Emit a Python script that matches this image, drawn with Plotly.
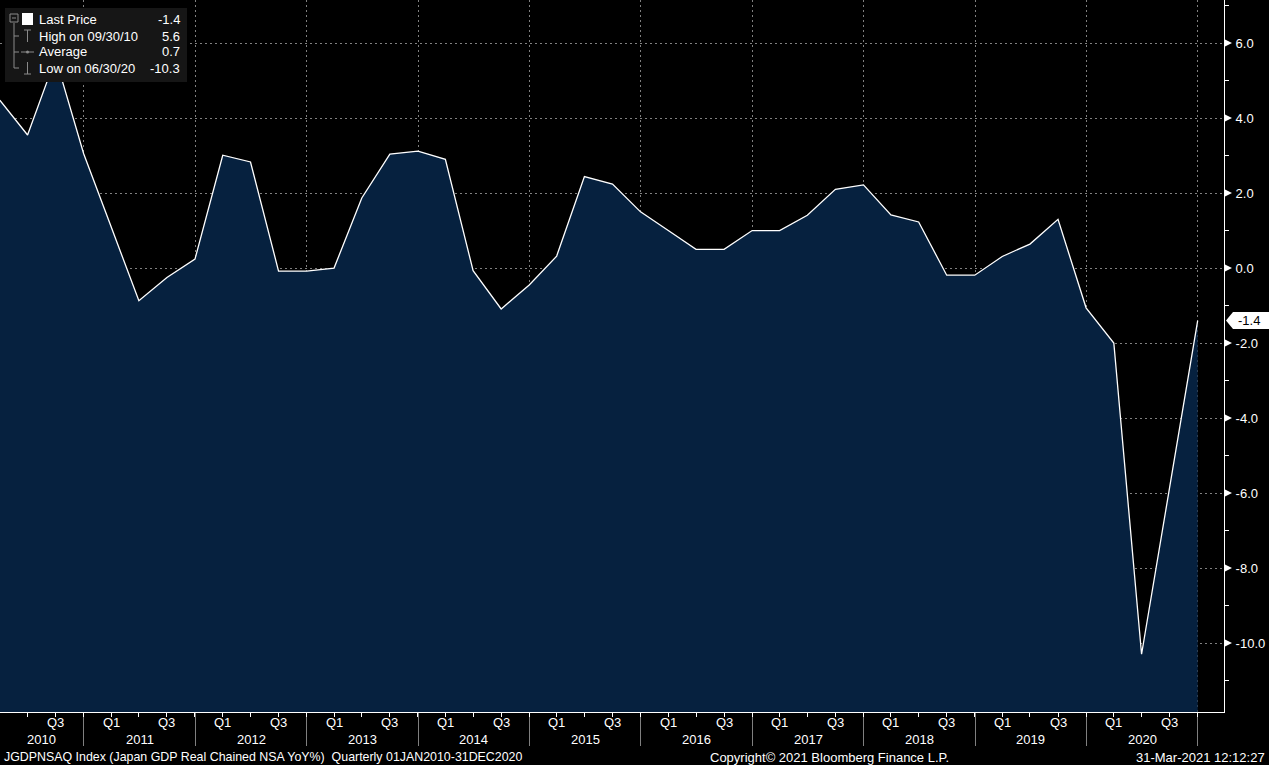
import plotly.graph_objects as go
import datetime as _dt

# ---------------- data ----------------
years = list(range(2010, 2021))
quarter_end_md = ["03-31", "06-30", "09-30", "12-31"]
dates = [f"{y}-{md}" for y in years for md in quarter_end_md]

gdp_yoy = [
    4.48, 3.55, 5.60, 3.05,    # 2010
    1.10, -0.87, -0.25, 0.24,  # 2011
    3.01, 2.83, -0.08, -0.08,  # 2012
    0.00, 1.87, 3.04, 3.12,    # 2013
    2.90, -0.07, -1.09, -0.45, # 2014
    0.32, 2.44, 2.24, 1.50,    # 2015
    1.00, 0.50, 0.50, 1.00,    # 2016
    1.00, 1.41, 2.10, 2.22,    # 2017
    1.42, 1.23, -0.19, -0.19,  # 2018
    0.31, 0.64, 1.30, -1.06,   # 2019
    -2.00, -10.30, -5.85, -1.40  # 2020
]

y_major = [-10, -8, -6, -4, -2, 0, 2, 4, 6]
y_minor = [-11, -9, -7, -5, -3, -1, 1, 3, 5, 7]
year_bounds = [f"{y}-01-01" for y in range(2011, 2022)]
year_labels = [str(y) for y in years]
q_labels = ["Q1", "", "Q3", ""]

legend_rows = [
    ("Last Price", "-1.4"),
    ("High on 09/30/10", "5.6"),
    ("Average", "0.7"),
    ("Low on 06/30/20", "-10.3"),
]
last_value = gdp_yoy[-1]

footer_left = "JGDPNSAQ Index (Japan GDP Real Chained NSA YoY%)  Quarterly 01JAN2010-31DEC2020"
footer_mid = "Copyright\u00a9 2021 Bloomberg Finance L.P."
footer_right = "31-Mar-2021 12:12:27"

# ---------------- layout constants ----------------
W, H = 1269, 765
ML, MR, MT, MB = 0, 45, 0, 53
PW, PH = W - ML - MR, H - MT - MB
Y_MIN, Y_MAX = -11.84, 7.15
X0 = _dt.datetime(2010, 3, 31, 14)
X1 = _dt.datetime(2021, 3, 27, 7)
FILL = "#06213F"
GRID = "#808080"
FONT = "Liberation Sans"


def px2x(px):
    return (px - ML) / PW


def px2y(py):
    return 1 - (py - MT) / PH


def upy(pixels):  # pixels -> data units on y
    return pixels * (Y_MAX - Y_MIN) / PH


fig = go.Figure()

# baseline for fill to bottom of plot
fig.add_trace(go.Scatter(x=dates, y=[Y_MIN] * len(dates), mode="lines",
                         line=dict(width=0, color=FILL), hoverinfo="skip",
                         showlegend=False))
fig.add_trace(go.Scatter(x=dates, y=gdp_yoy, mode="lines", fill="tonexty",
                         fillcolor=FILL, line=dict(color="white", width=1.3),
                         showlegend=False))

shapes = []
annotations = []

# right axis triangles at major ticks
d = upy(3.5)
for v in y_major:
    shapes.append(dict(type="path", xref="paper", yref="y",
                       path=f"M {px2x(PW+1)},{v+d} L {px2x(PW+8)},{v} L {px2x(PW+1)},{v-d} Z",
                       fillcolor="white", line=dict(width=0), layer="above"))

# last value callout
hh = upy(8.5)
shapes.append(dict(type="path", xref="paper", yref="y",
                   path=(f"M {px2x(PW+2)},{last_value} L {px2x(PW+9)},{last_value+hh} "
                         f"L {px2x(W)},{last_value+hh} L {px2x(W)},{last_value-hh} "
                         f"L {px2x(PW+9)},{last_value-hh} Z"),
                   fillcolor="white", line=dict(width=0), layer="above"))
annotations.append(dict(xref="paper", yref="y", x=px2x(PW+12), y=last_value,
                        text=f"{last_value:.1f}", showarrow=False, xanchor="left",
                        yanchor="middle", font=dict(color="black", size=13, family=FONT)))

# legend box
shapes.append(dict(type="rect", xref="paper", yref="paper",
                   x0=px2x(5), x1=px2x(187), y0=px2y(82), y1=px2y(8),
                   fillcolor="#161616", line=dict(width=0), layer="above"))
icon = "#8a8a8a"
shapes.append(dict(type="rect", xref="paper", yref="paper", x0=px2x(10), x1=px2x(18),
                   y0=px2y(22), y1=px2y(14), line=dict(color=icon, width=1), layer="above"))
shapes.append(dict(type="line", xref="paper", yref="paper", x0=px2x(12), x1=px2x(16),
                   y0=px2y(18), y1=px2y(18), line=dict(color=icon, width=1), layer="above"))
shapes.append(dict(type="line", xref="paper", yref="paper", x0=px2x(14), x1=px2x(14),
                   y0=px2y(23), y1=px2y(68), line=dict(color=icon, width=1), layer="above"))
for yy in (36, 52, 68):
    shapes.append(dict(type="line", xref="paper", yref="paper", x0=px2x(14), x1=px2x(19),
                       y0=px2y(yy), y1=px2y(yy), line=dict(color=icon, width=1), layer="above"))
shapes.append(dict(type="rect", xref="paper", yref="paper", x0=px2x(22), x1=px2x(33),
                   y0=px2y(25), y1=px2y(13), fillcolor="white", line=dict(width=0), layer="above"))
shapes.append(dict(type="line", xref="paper", yref="paper", x0=px2x(24), x1=px2x(31),
                   y0=px2y(30), y1=px2y(30), line=dict(color=icon, width=1), layer="above"))
shapes.append(dict(type="line", xref="paper", yref="paper", x0=px2x(27.5), x1=px2x(27.5),
                   y0=px2y(30), y1=px2y(42), line=dict(color=icon, width=1), layer="above"))
shapes.append(dict(type="line", xref="paper", yref="paper", x0=px2x(21), x1=px2x(34),
                   y0=px2y(52), y1=px2y(52), line=dict(color=icon, width=1), layer="above"))
shapes.append(dict(type="circle", xref="paper", yref="paper", x0=px2x(26), x1=px2x(29),
                   y0=px2y(53.5), y1=px2y(50.5), fillcolor=icon, line=dict(width=0), layer="above"))
shapes.append(dict(type="line", xref="paper", yref="paper", x0=px2x(27.5), x1=px2x(27.5),
                   y0=px2y(62), y1=px2y(74), line=dict(color=icon, width=1), layer="above"))
shapes.append(dict(type="line", xref="paper", yref="paper", x0=px2x(24), x1=px2x(31),
                   y0=px2y(74), y1=px2y(74), line=dict(color=icon, width=1), layer="above"))

for i, (lab, val) in enumerate(legend_rows):
    yy = [19, 36, 52, 68][i]
    annotations.append(dict(xref="paper", yref="paper", x=px2x(37), y=px2y(yy), text=lab,
                            showarrow=False, xanchor="left", yanchor="middle",
                            font=dict(color="white", size=13, family=FONT)))
    annotations.append(dict(xref="paper", yref="paper", x=px2x(182), y=px2y(yy), text=val,
                            showarrow=False, xanchor="right", yanchor="middle",
                            font=dict(color="white", size=13, family=FONT)))

# quarter labels (Q1 / Q3) under the axis
for dt, ql in zip(dates, q_labels * len(years)):
    dd = _dt.datetime.fromisoformat(dt)
    if ql and X0 <= dd <= X1:
        annotations.append(dict(xref="x", yref="paper", x=dt, y=px2y(722), text=ql,
                                showarrow=False, xanchor="center", yanchor="middle",
                                font=dict(color="white", size=13, family=FONT)))

# year labels centred on the visible part of each year
for y, lab in zip(years, year_labels):
    a = max(_dt.datetime(y, 1, 1), X0)
    b = min(_dt.datetime(y + 1, 1, 1), X1)
    mid = a + (b - a) / 2
    annotations.append(dict(xref="x", yref="paper", x=mid, y=px2y(739), text=lab,
                            showarrow=False, xanchor="center", yanchor="middle",
                            font=dict(color="white", size=13, family=FONT)))

# footer
annotations.append(dict(xref="paper", yref="paper", x=px2x(2), y=px2y(757), text=footer_left,
                        showarrow=False, xanchor="left", yanchor="middle",
                        font=dict(color="white", size=12.4, family=FONT)))
annotations.append(dict(xref="paper", yref="paper", x=px2x(829), y=px2y(757), text=footer_mid,
                        showarrow=False, xanchor="center", yanchor="middle",
                        font=dict(color="white", size=13, family=FONT)))
annotations.append(dict(xref="paper", yref="paper", x=px2x(1267), y=px2y(757), text=footer_right,
                        showarrow=False, xanchor="right", yanchor="middle",
                        font=dict(color="white", size=13, family=FONT)))

fig.update_layout(
    width=W, height=H, autosize=False,
    margin=dict(l=ML, r=MR, t=MT, b=MB, pad=0),
    paper_bgcolor="black", plot_bgcolor="black",
    showlegend=False,
    shapes=shapes, annotations=annotations,
    font=dict(family=FONT, color="white", size=13),
    xaxis=dict(
        type="date", range=[X0, X1],
        tickvals=dates, showticklabels=False,
        ticks="outside", ticklen=4, tickcolor="white", tickwidth=1,
        showgrid=False, showline=True, linecolor="white", linewidth=1,
        zeroline=False,
        minor=dict(tickvals=year_bounds, ticks="outside", ticklen=33,
                   tickcolor="#7f7f7f", tickwidth=1,
                   showgrid=True, gridcolor=GRID, griddash="2px,3px", gridwidth=1),
    ),
    yaxis=dict(
        side="right", range=[Y_MIN, Y_MAX],
        tickvals=y_major, ticktext=[f"{v:.1f}" for v in y_major],
        ticks="outside", ticklen=8, tickcolor="rgba(0,0,0,0)",
        tickfont=dict(color="white", size=13, family=FONT),
        showgrid=True, gridcolor=GRID, griddash="2px,3px", gridwidth=1,
        showline=True, linecolor="white", linewidth=1, zeroline=False,
        minor=dict(tickvals=y_minor, ticks="outside", ticklen=4, tickcolor="white",
                   showgrid=False),
    ),
)

fig.write_html("out.html")
